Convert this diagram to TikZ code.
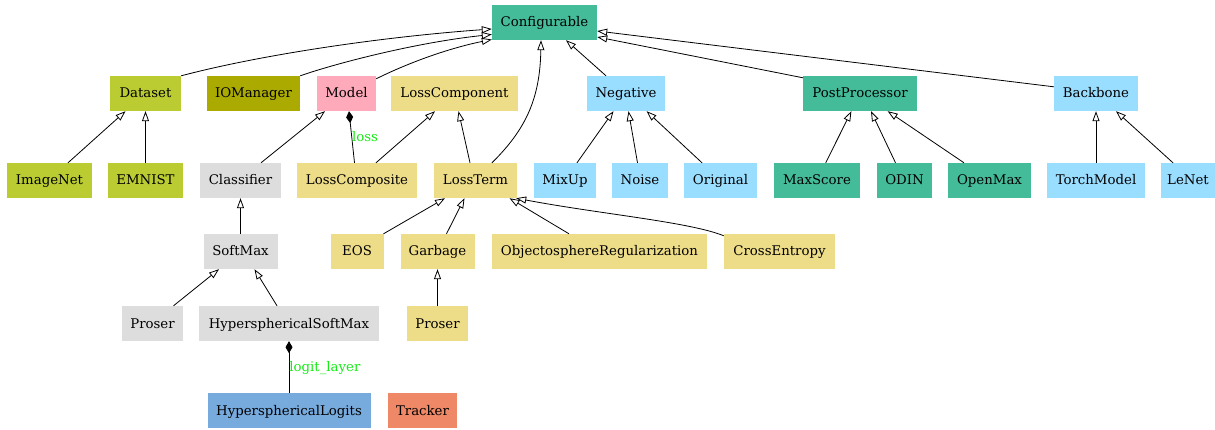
\documentclass[tikz,border=0pt]{standalone}
\usepackage{fontspec}
\setmainfont{DejaVu Serif}
\usetikzlibrary{arrows.meta}
\definecolor{cTeal}{HTML}{44BB99}
\definecolor{cLime}{HTML}{BBCC33}
\definecolor{cOlive}{HTML}{AAAA00}
\definecolor{cPink}{HTML}{FFAABB}
\definecolor{cSand}{HTML}{EEDD88}
\definecolor{cCyan}{HTML}{99DDFF}
\definecolor{cGrey}{HTML}{DDDDDD}
\definecolor{cBlue}{HTML}{77AADD}
\definecolor{cOrange}{HTML}{EE8866}
\definecolor{cLabel}{RGB}{20,235,20}
\begin{document}
\begin{tikzpicture}[x=1pt,y=-1pt,
  box/.style={rectangle, minimum height=35pt, inner sep=0pt, text height=11.2pt, text depth=2.2pt, font=\fontsize{13.3}{16}\selectfont, text=black},
  gen/.style={line width=0.8pt, -{Triangle[open,length=10pt,width=7pt]}},
  comp/.style={line width=0.8pt, {Diamond[length=12pt,width=7pt]}-},
  lbl/.style={font=\fontsize{13.3}{16}\selectfont, text=cLabel, inner sep=0pt}]
\useasboundingbox (0,0) rectangle (1215,430);
% row 1
\node[box, fill=cTeal, minimum width=105pt] (configurable) at (544.5,22.5) {Configurable};
% row 2
\node[box, fill=cLime, minimum width=71pt] (dataset) at (145.5,93.5) {Dataset};
\node[box, fill=cOlive, minimum width=93pt] (iomanager) at (253.5,93.5) {IOManager};
\node[box, fill=cPink, minimum width=59pt] (model) at (346.5,93.5) {Model};
\node[box, fill=cSand, minimum width=127pt] (losscomponent) at (454.5,93.5) {LossComponent};
\node[box, fill=cCyan, minimum width=78pt] (negative) at (626,93.5) {Negative};
\node[box, fill=cTeal, minimum width=114pt] (postprocessor) at (860,93.5) {PostProcessor};
\node[box, fill=cCyan, minimum width=84pt] (backbone) at (1096,93.5) {Backbone};
% row 3
\node[box, fill=cLime, minimum width=85pt] (imagenet) at (49.5,180.5) {ImageNet};
\node[box, fill=cLime, minimum width=75pt] (emnist) at (145.5,180.5) {EMNIST};
\node[box, fill=cGrey, minimum width=81pt] (classifier) at (240.5,180.5) {Classifier};
\node[box, fill=cSand, minimum width=120pt] (losscomposite) at (357,180.5) {LossComposite};
\node[box, fill=cSand, minimum width=83pt] (lossterm) at (475.5,180.5) {LossTerm};
\node[box, fill=cCyan, minimum width=62pt] (mixup) at (565,180.5) {MixUp};
\node[box, fill=cCyan, minimum width=56pt] (noise) at (640,180.5) {Noise};
\node[box, fill=cCyan, minimum width=73pt] (original) at (720.5,180.5) {Original};
\node[box, fill=cTeal, minimum width=86pt] (maxscore) at (817,180.5) {MaxScore};
\node[box, fill=cTeal, minimum width=55pt] (odin) at (904.5,180.5) {ODIN};
\node[box, fill=cTeal, minimum width=83pt] (openmax) at (989.5,180.5) {OpenMax};
\node[box, fill=cCyan, minimum width=98pt] (torchmodel) at (1096,180.5) {TorchModel};
\node[box, fill=cCyan, minimum width=54pt] (lenet) at (1188,180.5) {LeNet};
% row 4
\node[box, fill=cGrey, minimum width=74pt] (softmax) at (240.5,251.5) {SoftMax};
\node[box, fill=cSand, minimum width=53pt] (eos) at (357,251.5) {EOS};
\node[box, fill=cSand, minimum width=74pt] (garbage) at (437.5,251.5) {Garbage};
\node[box, fill=cSand, minimum width=215pt] (objreg) at (599.5,251.5) {ObjectosphereRegularization};
\node[box, fill=cSand, minimum width=111pt] (crossentropy) at (779.5,251.5) {CrossEntropy};
% row 5
\node[box, fill=cGrey, minimum width=61pt] (proserg) at (152.5,323.5) {Proser};
\node[box, fill=cGrey, minimum width=180pt] (hsm) at (289,323.5) {HypersphericalSoftMax};
\node[box, fill=cSand, minimum width=61pt] (prosery) at (437.5,323.5) {Proser};
% row 6
\node[box, fill=cBlue, minimum width=163pt] (hsl) at (289,410.5) {HypersphericalLogits};
\node[box, fill=cOrange, minimum width=69pt] (tracker) at (422.5,410.5) {Tracker};

% edges to Configurable
\draw[gen] (dataset.north east) .. controls (260,55) and (380,37) .. ([yshift=-6.5pt]configurable.west);
\draw[gen] (iomanager.north east) .. controls (340,62) and (420,42) .. ([yshift=-12pt]configurable.west);
\draw[gen] ([yshift=-3pt]model.north east) .. controls (410,62) and (450,48) .. ([yshift=-17pt]configurable.west);
\draw[gen] ([xshift=16.5pt]lossterm.north) .. controls (525,130) and (540,100) .. ([xshift=-3.5pt]configurable.south);
\draw[gen] ([xshift=-20pt]negative.north) -- ([xshift=21.5pt]configurable.south);
\draw[gen] ([xshift=-57pt,yshift=-2pt]postprocessor.north) -- ([yshift=-14.5pt]configurable.east);
\draw[gen] ([yshift=-11pt]backbone.north west) -- ([yshift=-8.5pt]configurable.east);

% row 3 -> row 2
\draw[gen] ([xshift=18.5pt]imagenet.north) -- ([xshift=-20pt]dataset.south);
\draw[gen] (emnist.north) -- (dataset.south);
\draw[gen] ([xshift=20.5pt]classifier.north) -- ([xshift=-21.5pt]model.south);
\draw[comp] ([xshift=2.5pt]model.south) -- node[lbl, anchor=west, pos=0.5] {loss} ([xshift=-2.5pt]losscomposite.north);
\draw[gen] ([xshift=19pt]losscomposite.north) -- ([xshift=-19.5pt]losscomponent.south);
\draw[gen] ([xshift=-5.5pt]lossterm.north) -- ([xshift=4pt]losscomponent.south);
\draw[gen] ([xshift=12pt]mixup.north) -- ([xshift=-12.5pt]negative.south);
\draw[gen] ([xshift=-2.5pt]noise.north) -- ([xshift=2.5pt]negative.south);
\draw[gen] ([xshift=-18.5pt]original.north) -- ([xshift=20.6pt]negative.south);
\draw[gen] ([xshift=8.7pt]maxscore.north) -- ([xshift=-8.6pt]postprocessor.south);
\draw[gen] ([xshift=-9pt]odin.north) -- ([xshift=11pt]postprocessor.south);
\draw[gen] ([xshift=-25.5pt]openmax.north) -- ([xshift=27.7pt]postprocessor.south);
\draw[gen] (torchmodel.north) -- (backbone.south);
\draw[gen] ([xshift=-15pt]lenet.north) -- ([xshift=20pt]backbone.south);

% row 4 -> row 3
\draw[gen] (softmax.north) -- (classifier.south);
\draw[gen] ([xshift=26.5pt]eos.north) -- ([xshift=-30.5pt]lossterm.south);
\draw[gen] ([xshift=9pt]garbage.north) -- ([xshift=-11pt]lossterm.south);
\draw[gen] ([xshift=-30.5pt]objreg.north) -- ([xshift=34pt]lossterm.south);
\draw[gen] ([yshift=-2pt]crossentropy.north west) .. controls (690,222) and (600,214) .. ([xshift=-1pt]lossterm.south east);

% row 5 -> row 4
\draw[gen] ([xshift=21pt]proserg.north) -- ([xshift=-21.5pt]softmax.south);
\draw[gen] ([xshift=-12pt]hsm.north) -- ([xshift=14pt]softmax.south);
\draw[gen] (prosery.north) -- (garbage.south);

% row 6 -> row 5
\draw[comp] (hsm.south) -- node[lbl, anchor=west, pos=0.52] {logit\_layer} (hsl.north);
\end{tikzpicture}
\end{document}
